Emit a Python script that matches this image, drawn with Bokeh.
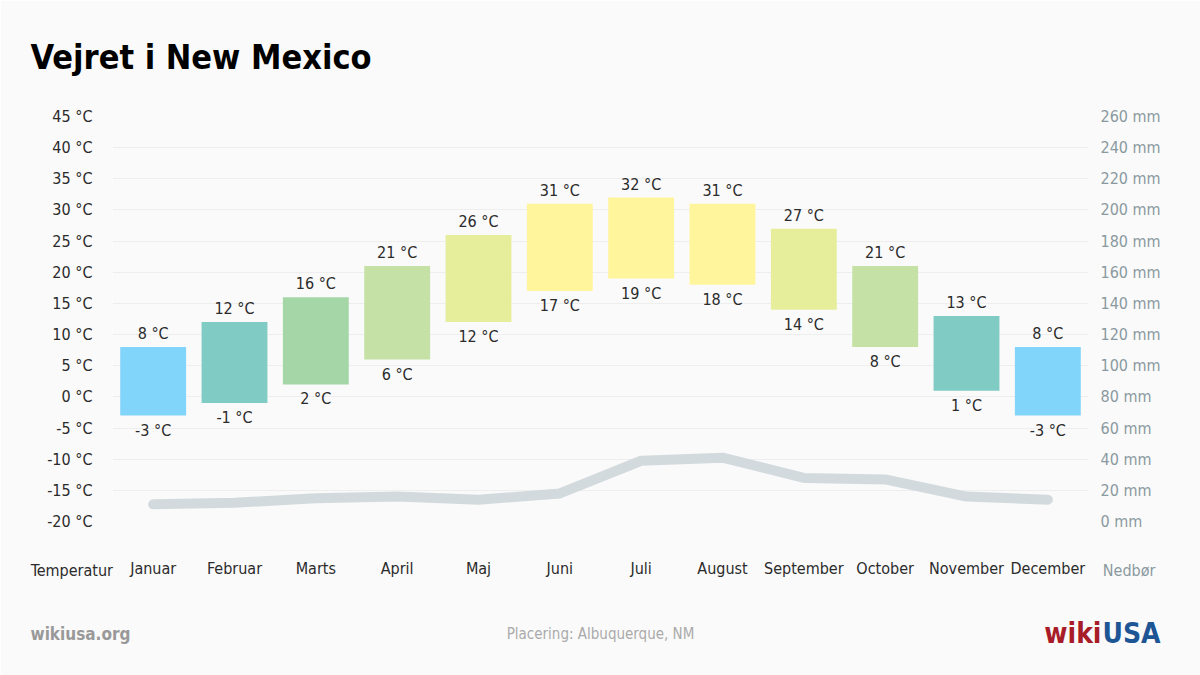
from bokeh.plotting import figure
from bokeh.models import (Range1d, LinearAxis, FixedTicker, PrintfTickFormatter,
                          Label, ColumnDataSource)
from bokeh.core.properties import value
from bokeh.embed import file_html
from bokeh.resources import INLINE

# ---------------- data ----------------
months = ["Januar", "Februar", "Marts", "April", "Maj", "Juni", "Juli",
          "August", "September", "October", "November", "December"]
t_max = [8, 12, 16, 21, 26, 31, 32, 31, 27, 21, 13, 8]
t_min = [-3, -1, 2, 6, 12, 17, 19, 18, 14, 8, 1, -3]
precip = [11, 12, 15, 16, 14, 18, 39, 41, 28, 27, 16, 14]
bar_colors = ["#81d4fa", "#80cbc4", "#a5d6a7", "#c5e1a5", "#e6ee9c", "#fff59d",
              "#fff59d", "#fff59d", "#e6ee9c", "#c5e1a5", "#80cbc4", "#81d4fa"]
temp_ticks = list(range(-20, 50, 5))
precip_ticks = list(range(0, 280, 20))

title = "Vejret i New Mexico"
left_name = "Temperatur"
right_name = "Nedbør"
source_text = "wikiusa.org"
location_text = "Placering: Albuquerque, NM"
logo_a, logo_b = "wiki", "USA"

# ---------------- style ----------------
FONT = "DejaVu Sans Condensed"
BG = "#fafafa"
TXT = "#2b2b2b"
GRAY = "#8a999f"
FS = "16px"

W, H = 1200, 675
FL, FR, FT, FB = 112, 1088, 116, 521  # frame edges on screen
T_LO, T_HI = -20, 45
N = len(months)
xpos = [i + 0.5 for i in range(N)]


def sx(px):
    return (px - FL) / ((FR - FL) / N)


def sy(py):
    return T_HI - (py - FT) * (T_HI - T_LO) / (FB - FT)


src = ColumnDataSource(dict(
    x=xpos, tmax=t_max, tmin=t_min, precip=precip, color=bar_colors,
    max_lbl=[f"{v} °C" for v in t_max], min_lbl=[f"{v} °C" for v in t_min],
))

p = figure(width=W, height=H, x_range=Range1d(0, N),
           y_range=Range1d(T_LO, T_HI), output_backend="svg",
           toolbar_location=None,
           min_border_left=FL, min_border_right=W - FR,
           min_border_top=FT, min_border_bottom=H - FB,
           background_fill_color=BG, border_fill_color=BG,
           outline_line_color=None)
p.extra_y_ranges = {"mm": Range1d(0, 260)}


def style_axis(ax, color, standoff):
    ax.axis_line_color = None
    ax.major_tick_line_color = None
    ax.minor_tick_line_color = None
    ax.major_tick_out = 0
    ax.major_tick_in = 0
    ax.minor_tick_out = 0
    ax.minor_tick_in = 0
    ax.major_label_standoff = standoff
    ax.major_label_text_font = FONT
    ax.major_label_text_font_size = FS
    ax.major_label_text_color = color


xa = p.xaxis[0]
xa.ticker = FixedTicker(ticks=xpos)
xa.major_label_overrides = {x: m for x, m in zip(xpos, months)}
style_axis(xa, TXT, 37)

ya = p.yaxis[0]
ya.ticker = FixedTicker(ticks=temp_ticks)
ya.formatter = PrintfTickFormatter(format="%d °C")
style_axis(ya, TXT, 20)

ra = LinearAxis(y_range_name="mm", ticker=FixedTicker(ticks=precip_ticks),
                formatter=PrintfTickFormatter(format="%d mm"))
style_axis(ra, GRAY, 12)
p.add_layout(ra, "right")

p.xgrid.grid_line_color = None
p.ygrid.ticker = FixedTicker(ticks=temp_ticks)
p.ygrid.grid_line_color = "#eeeeee"
p.ygrid.grid_line_width = 1

# bars
p.vbar(x="x", top="tmax", bottom="tmin", width=0.81, fill_color="color",
       line_color=None, source=src)

# labels on bars
p.text(x="x", y="tmax", text="max_lbl", source=src, text_align="center",
       text_baseline="bottom", y_offset=-4, text_font=value(FONT),
       text_font_size=FS, text_color=TXT)
p.text(x="x", y="tmin", text="min_lbl", source=src, text_align="center",
       text_baseline="top", y_offset=5, text_font=value(FONT),
       text_font_size=FS, text_color=TXT)

# precipitation line
p.line(x="x", y="precip", y_range_name="mm", source=src, line_width=10,
       line_color="#d3dadd", line_cap="round", line_join="round")


# texts around the frame (placed in side panels so they are not clipped;
# spread over panels so that their stacked sizes stay within the borders)
def add_label(text, x, y, size, color, place, align="left", bold=False):
    p.add_layout(Label(x=x, y=y, text=text, text_font=FONT,
                       text_font_size=size, text_color=color, text_align=align,
                       text_baseline="alphabetic",
                       text_font_style="bold" if bold else "normal"), place)


add_label(title, sx(30), sy(56), "34px", "#000000", "above", bold=True)
add_label(logo_a, sx(1101), sy(633), "28px", "#a81c27", "above", align="right", bold=True)
add_label(logo_b, sx(1102), sy(633), "28px", "#1d5595", "above", align="left", bold=True)
add_label(left_name, -0.5, sy(570), FS, TXT, "below", align="center")
add_label(right_name, N + 0.5, sy(570), FS, GRAY, "below", align="center")
add_label(source_text, sx(30), sy(633), "17px", "#999999", "below", bold=True)
add_label(location_text, sx(600), sy(633), "15px", "#aaaaaa", "below", align="center")

open("out.html", "w").write(file_html(p, INLINE))
